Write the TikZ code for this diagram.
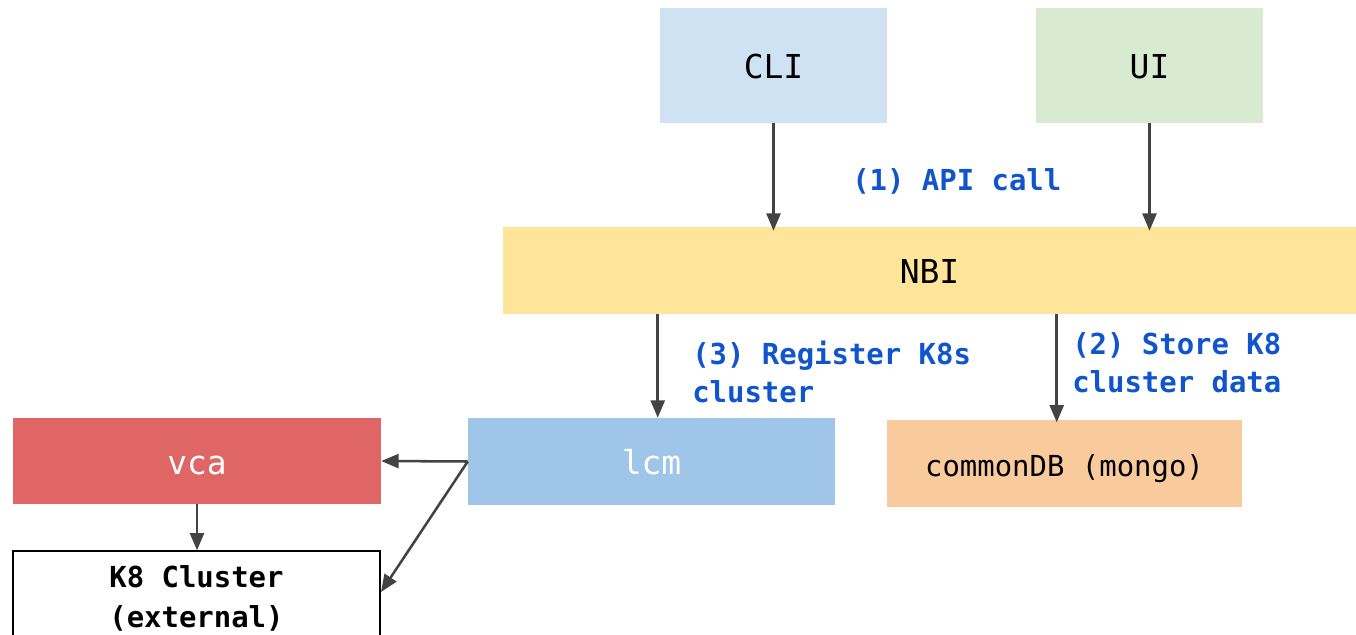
\documentclass[tikz,border=0pt]{standalone}
\usepackage{fontspec}
\setmainfont{DejaVu Sans Mono}
\usetikzlibrary{arrows.meta,calc}
\definecolor{cliC}{HTML}{CFE2F3}
\definecolor{uiC}{HTML}{D9EAD3}
\definecolor{nbiC}{HTML}{FFE599}
\definecolor{vcaC}{HTML}{E06666}
\definecolor{lcmC}{HTML}{9FC5E8}
\definecolor{dbC}{HTML}{F9CB9C}
\definecolor{lblC}{HTML}{1155CC}
\definecolor{arrC}{HTML}{434343}
\tikzset{
  box/.style={draw=none, inner sep=0pt, text height=19.6pt, text depth=0pt, font=\fontsize{24.7pt}{30pt}\selectfont},
  smallbox/.style={draw=none, inner sep=0pt, text height=20.2pt, text depth=0pt, font=\fontsize{21.7pt}{28.5pt}\selectfont},
  lbl/.style={inner sep=0pt, text=lblC, align=left, font=\bfseries\fontsize{21.7pt}{28.5pt}\selectfont},
  arr/.style={draw=arrC, line width=1.9pt, -{Triangle[length=13pt,width=10.5pt]}}
}
\begin{document}
\begin{tikzpicture}[x=0.75pt,y=-0.75pt]
\useasboundingbox (0,0) rectangle (1356,635);
\clip (0,0) rectangle (1356,635);
\node[box, fill=cliC, minimum width=170.25pt, minimum height=86.25pt] (cli) at (773.5,65.5) {CLI};
\node[box, fill=uiC, minimum width=170.25pt, minimum height=86.25pt] (ui) at (1149.5,65.5) {UI};
\node[box, fill=nbiC, minimum width=639.75pt, minimum height=65.25pt] (nbi) at (929.5,270.5) {NBI};
\node[box, fill=vcaC, text=white, minimum width=276pt, minimum height=64.5pt] (vca) at (197,461) {vca};
\node[box, fill=lcmC, text=white, minimum width=275.25pt, minimum height=65.25pt] (lcm) at (651.5,461.5) {lcm};
\node[smallbox, fill=dbC, minimum width=266.25pt, minimum height=65.25pt] (db) at (1064.5,463.5) {commonDB (mongo)};
\node[draw=black, line width=1.5pt, fill=white, inner sep=0pt, align=center, font=\bfseries\fontsize{21.7pt}{28.5pt}\selectfont, minimum width=275.25pt, minimum height=70pt] (k8) at (196.5,598) {K8 Cluster\\[1.5pt](external)};

\node[lbl, anchor=west] (l1) at (852,181) {(1) API call};
\node[lbl, anchor=west] (l3) at (692,372) {(3) Register K8s\\cluster};
\node[lbl, anchor=west] (l2) at (1072,363) {(2) Store K8\\cluster data};

\draw[arr, shorten >=-3pt] (cli.south) -- (cli.south |- nbi.north);
\draw[arr, shorten >=-3pt] (ui.south) -- (ui.south |- nbi.north);
\draw[arr] ($(nbi.south west)+(155,0)$) coordinate (a3) -- (a3 |- lcm.north);
\draw[arr, shorten >=-2pt] ($(nbi.south west)+(554,0)$) coordinate (a2) -- (a2 |- db.north);
\draw[arr] (lcm.west) -- (vca.east);
\draw[arr] (lcm.west) -- ($(k8.east)+(0,-6)$);
\draw[arr] (vca.south) -- (vca.south |- k8.north);
\end{tikzpicture}
\end{document}
